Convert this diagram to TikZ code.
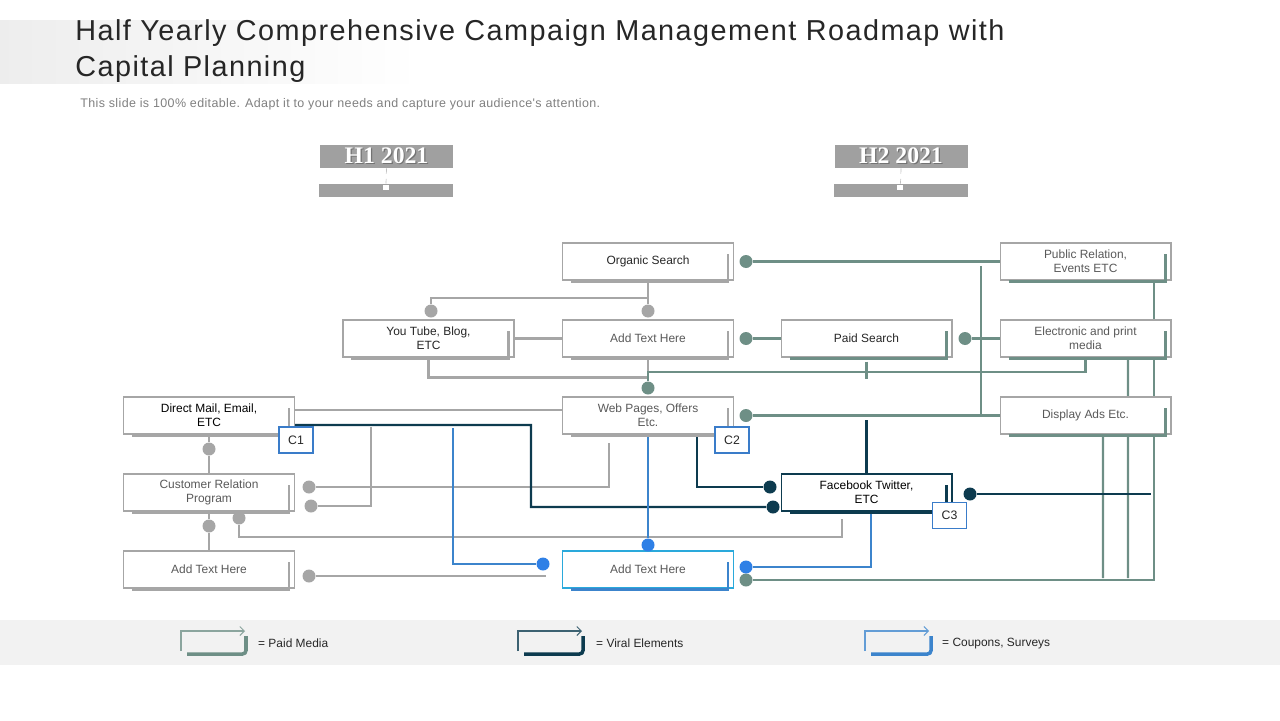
\documentclass[tikz,border=0pt]{standalone}
\usepackage{fontspec}
\setmainfont{Liberation Sans}
\newfontfamily\headfont{Liberation Serif}
\newfontfamily\titlefont[LetterSpace=5]{Liberation Sans}
\newfontfamily\notefont[LetterSpace=3]{Liberation Sans}
\usetikzlibrary{arrows.meta,backgrounds}

\definecolor{cardedge}{HTML}{A6A6A6}
\definecolor{ink}{HTML}{262626}
\definecolor{softink}{HTML}{595959}
\definecolor{paid}{HTML}{6E8F86}
\definecolor{viral}{HTML}{0D3B4F}
\definecolor{coupon}{HTML}{3C84CC}
\definecolor{coupondot}{HTML}{2F80E6}
\definecolor{cbline}{HTML}{3A7CC9}
\definecolor{halfgray}{HTML}{A0A0A0}
\definecolor{legendbg}{HTML}{F2F2F2}

\newcommand\embossed[1]{\makebox[0pt][l]{\raisebox{-0.7pt}{\hspace{0.7pt}\textcolor{black!55}{#1}}}\textcolor{white}{#1}}

\tikzset{%
    card/.style={draw=cardedge, fill=white, line width=0.6pt,
        minimum width=3.42cm, minimum height=0.74cm, inner sep=1pt,
        align=center, text=ink, font=\fontsize{6.8}{8}\selectfont},
    cbox/.style={draw=cbline, fill=white, line width=1.1pt,
        minimum width=0.68cm, minimum height=0.52cm, inner sep=0pt,
        text=ink, font=\fontsize{7}{8}\selectfont},
    dot/.style={circle, fill=#1, inner sep=0pt, minimum size=0.26cm},
    link/.style={draw=#1, line width=1.2pt},
    halfbox/.style={fill=halfgray, minimum width=2.66cm, minimum height=0.46cm,
        inner sep=0pt, font=\headfont\bfseries\fontsize{13.5}{13.5}\selectfont},
    halfbar/.style={fill=halfgray, minimum width=2.68cm, minimum height=0.26cm, inner sep=0pt},
    legtext/.style={anchor=west, text=ink, font=\fontsize{6.8}{8}\selectfont}
}

\begin{document}
\begin{tikzpicture}[x=0.02cm, y=-0.02cm]
\useasboundingbox (0,0) rectangle (1280,720);

% title
\shade[left color=black!7, right color=white] (0,20) rectangle (420,83);
\node[anchor=base west, align=left, text=ink, inner sep=0pt,
      font=\titlefont\fontsize{16.4}{20.4}\selectfont] (title) at (75,76)
  {Half Yearly Comprehensive Campaign Management Roadmap with\\Capital Planning};
\node[anchor=base west, inner sep=0pt, text=black!50, font=\notefont\fontsize{7.1}{8}\selectfont]
  (subtitle) at (80,107)
  {This slide is 100\% editable. Adapt it to your needs and capture your audience's attention.};

% half year headers
\node[halfbox] (h1) at (386.5,156.5) {\embossed{H1 2021}};
\node[halfbar] (b1) at (386,190.5) {};
\node[halfbox] (h2) at (901,156.5) {\embossed{H2 2021}};
\node[halfbar] (b2) at (900.5,190.5) {};
\draw[dashed, cardedge!70, line width=0.4pt] (h1.south) -- (b1.north);
\draw[dashed, cardedge!70, line width=0.4pt] (h2.south) -- (b2.north);
\fill[white] (383,185) rectangle (389,190);
\fill[white] (897,185) rectangle (903,190);

% channel cards
\node[card] (org) at (648,261.5) {Organic Search};
\node[card] (yt) at (428.5,338.5) {You Tube, Blog,\\ETC};
\node[card, text=softink] (addm) at (648,338.5) {Add Text Here};
\node[card] (paids) at (866.5,338.5) {Paid Search};
\node[card, text=softink] (pr) at (1085.5,261.5) {Public Relation,\\Events ETC};
\node[card, text=softink] (elec) at (1085.5,338.5) {Electronic and print\\media};
\node[card, text=softink] (disp) at (1085.5,415.5) {Display Ads Etc.};
\node[card, text=black] (dmail) at (209,415.5) {Direct Mail, Email,\\ETC};
\node[card, text=softink] (web) at (648,415.5) {Web Pages, Offers\\Etc.};
\node[card, text=softink] (crp) at (209,492.5) {Customer Relation\\Program};
\node[card, text=softink] (addl) at (209,569.5) {Add Text Here};
\node[card, draw=viral, text=black] (fb) at (866.5,492.5) {Facebook Twitter,\\ETC};
\node[card, draw=coupon!70!cyan, text=softink] (addb) at (648,569.5) {Add Text Here};

\foreach \n/\c in {org/cardedge, yt/cardedge, addm/cardedge, dmail/cardedge,
                   web/cardedge, crp/cardedge, addl/cardedge, paids/paid,
                   pr/paid, elec/paid, disp/paid, fb/viral, addb/coupon}
  \draw[draw=\c, line width=1.6pt]
    ([xshift=0.18cm,yshift=-0.02cm]\n.south west)
    -- ([xshift=-0.12cm,yshift=-0.02cm]\n.south east)
    -- ([xshift=-0.12cm,yshift=-0.24cm]\n.north east);

\node[cbox] (c1) at (296,440) {C1};
\node[cbox] (c2) at (732,440) {C2};
\node[cbox] (c3) at (949.5,515.5) {C3};

% joints
\node[dot=cardedge] (dyt) at (431,311) {};
\node[dot=cardedge] (dadd) at (648,311) {};
\node[dot=cardedge] (ddm) at (209,449) {};
\node[dot=cardedge] (dcr) at (209,526) {};
\node[dot=cardedge] (dcr1) at (309,487) {};
\node[dot=cardedge] (dcr2) at (311,506) {};
\node[dot=cardedge] (dcr3) at (239,518) {};
\node[dot=cardedge] (dal) at (309,576) {};
\node[dot=paid] (dorg) at (746,261.5) {};
\node[dot=paid] (dadm) at (746,338.5) {};
\node[dot=paid] (dps) at (965,338.5) {};
\node[dot=paid] (dweb) at (648,388) {};
\node[dot=paid] (dwr) at (746,415.5) {};
\node[dot=paid] (dab) at (746,580) {};
\node[dot=viral] (dfb1) at (770,487) {};
\node[dot=viral] (dfb2) at (773,507) {};
\node[dot=viral] (dfb3) at (970,494) {};
\node[dot=coupondot] (dbl) at (543,564) {};
\node[dot=coupondot] (dbt) at (648,545) {};
\node[dot=coupondot] (dbr) at (746,567) {};

\begin{scope}[on background layer]
% gray links
\draw[link=cardedge] (dyt) -- ++(0,-13) -| (org.south);
\draw[link=cardedge] (dadd) -- (org.south);
\draw[link=cardedge] (yt.east) -- (addm.west);
\draw[link=cardedge] (yt.south) -- ++(0,20) -| (addm.south);
\draw[link=cardedge] ([yshift=0.11cm]dmail.east) -- ([yshift=0.11cm]web.west);
\draw[link=cardedge] (dmail.south) -- (ddm) -- (crp.north);
\draw[link=cardedge] (crp.south) -- (dcr) -- (addl.north);
\draw[link=cardedge] (dcr1) -| ([xshift=-0.78cm,yshift=-0.16cm]web.south);
\draw[link=cardedge] (dcr2) -| (371,427);
\draw[link=cardedge] (dcr3) -- ++(0,19) -| ([xshift=-0.49cm,yshift=-0.14cm]fb.south);
\draw[link=cardedge] (dal) -- (546,576);
% paid media
\draw[link=paid] (dorg) -- (pr.west);
\draw[link=paid] (dadm) -- (paids.west);
\draw[link=paid] (dps) -- (elec.west);
\draw[link=paid] (dweb) -- ++(0,-16) -| (elec.south);
\draw[link=paid] ([yshift=-0.08cm]paids.south) -- ++(0,17);
\draw[link=paid] (dwr) -- (disp.west);
\draw[link=paid] (disp.west -| 981,0) -- (981,266);
\draw[link=paid] ([xshift=1.37cm]pr.south) |- (dab);
\draw[link=paid] ([xshift=0.85cm]elec.south) -- (1128,578);
\draw[link=paid] ([xshift=0.35cm]disp.south) -- (1103,578);
% viral elements
\draw[link=viral] ([yshift=-0.19cm]dmail.east) -- (531,425) |- (dfb2);
\draw[link=viral] ([xshift=0.98cm]web.south) |- (dfb1);
\draw[link=viral] (fb.north) -- ++(0,-53);
\draw[link=viral] (dfb3) -- (1151,494);
% coupons
\draw[link=coupon] (453,428) |- (dbl);
\draw[link=coupon] (web.south) -- (dbt);
\draw[link=coupon] (dbr) -| ([xshift=0.09cm]fb.south);
\end{scope}

% legend
\fill[legendbg] (0,620) rectangle (1280,665);
\draw[paid!80, line width=0.6pt, -{Straight Barb[length=2.5pt,width=5pt]}] (181,651) -- (181,631) -- (245,631);
\draw[paid, line width=2pt, rounded corners=2pt] (187,654) -- (246,654) -- (246,636);
\node[legtext] (lpaid) at (252,643.5) {= Paid Media};
\draw[viral!80, line width=0.6pt, -{Straight Barb[length=2.5pt,width=5pt]}] (518,651) -- (518,631) -- (582,631);
\draw[viral, line width=2pt, rounded corners=2pt] (524,654) -- (583,654) -- (583,636);
\node[legtext] (lviral) at (590,643.5) {= Viral Elements};
\draw[coupon!80, line width=0.6pt, -{Straight Barb[length=2.5pt,width=5pt]}] (865,651) -- (865,631) -- (929,631);
\draw[coupon, line width=2pt, rounded corners=2pt] (871,654) -- (931,654) -- (931,636);
\node[legtext] (lcoupon) at (936,643.5) {= Coupons, Surveys};
\end{tikzpicture}
\end{document}
